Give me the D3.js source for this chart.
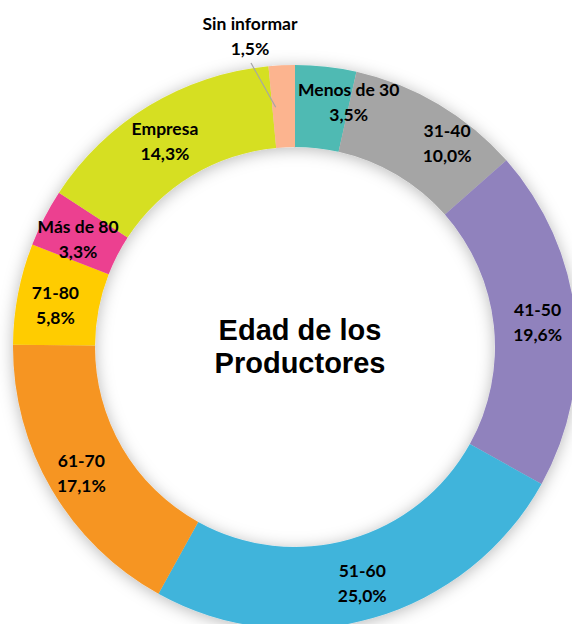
<!DOCTYPE html>
<html><head><meta charset="utf-8">
<script src="https://cdn.jsdelivr.net/npm/d3@7"></script>
<style>html,body{margin:0;padding:0;background:#fff;}svg{display:block;}</style>
</head><body>
<script>
const categories = ["Menos de 30","31-40","41-50","51-60","61-70","71-80","Más de 80","Empresa","Sin informar"];
const values = [3.5,10.0,19.6,25.0,17.1,5.8,3.3,14.3,1.5];
const valueLabels = ["3,5%","10,0%","19,6%","25,0%","17,1%","5,8%","3,3%","14,3%","1,5%"];
const colors = ["#4FBAB3","#A5A5A5","#9082BD","#40B4DB","#F69521","#FFCC00","#EC4190","#D6DF24","#FCB48F"];
const title = ["Edad de los","Productores"];

// layout nudges for labels (pixels)
const nudge = {"Menos de 30":[27,-3],"31-40":[28,5],"Empresa":[-4,2],"61-70":[-3,2],"71-80":[0,3],"Más de 80":[0,3]};

const W=572,H=624, cx=295, cy=347, R=282, r0=200;
const svg=d3.select("body").append("svg").attr("width",W).attr("height",H);
const defs=svg.append("defs");
const f=defs.append("filter").attr("id","sh").attr("x","-20%").attr("y","-20%").attr("width","140%").attr("height","140%");
f.append("feDropShadow").attr("dx",0).attr("dy",2).attr("stdDeviation",8).attr("flood-color","#000").attr("flood-opacity",0.28);

const pie=d3.pie().sort(null).value(d=>d.v);
const data=categories.map((c,i)=>({c,v:values[i],l:valueLabels[i],col:colors[i]}));
const arcs=pie(data);
const arc=d3.arc().innerRadius(r0).outerRadius(R);
const g=svg.append("g").attr("transform",`translate(${cx},${cy})`);
g.append("g").attr("filter","url(#sh)").selectAll("path").data(arcs).join("path")
 .attr("d",arc).attr("fill",d=>d.data.col);

const lab=d3.arc().innerRadius(244).outerRadius(244);
const font="Lato, 'Open Sans', sans-serif";
const fs=17.5;
arcs.forEach(d=>{
  if(d.data.c==="Sin informar"){
    const mid=(d.startAngle+d.endAngle)/2;
    const p=[Math.sin(mid)*240-8,-Math.cos(mid)*240];
    const lx=-45, ly=-317;
    g.append("line").attr("x1",p[0]).attr("y1",p[1]).attr("x2",lx+1).attr("y2",ly+33)
     .attr("stroke","#A6A6A6").attr("stroke-width",1.2);
    const t=g.append("text").attr("text-anchor","middle").attr("font-family",font).attr("font-weight",700).attr("font-size",fs).attr("fill","#000");
    t.append("tspan").attr("x",lx).attr("y",ly).text(d.data.c);
    t.append("tspan").attr("x",lx).attr("y",ly+25).text(d.data.l);
    return;
  }
  const c=lab.centroid(d); const n=nudge[d.data.c]||[0,0];
  const x=c[0]+n[0], y=c[1]+n[1];
  const t=g.append("text").attr("text-anchor","middle").attr("font-family",font).attr("font-weight",700).attr("font-size",fs).attr("fill","#000");
  t.append("tspan").attr("x",x).attr("y",y-5).text(d.data.c);
  t.append("tspan").attr("x",x).attr("y",y+20).text(d.data.l);
});

const tt=svg.append("text").attr("text-anchor","middle").attr("font-family","'Liberation Sans', Arial, sans-serif").attr("font-weight",700).attr("font-size",29).attr("fill","#000");
title.forEach((s,i)=>tt.append("tspan").attr("x",300).attr("y",340+i*33).text(s));
</script>
</body></html>
